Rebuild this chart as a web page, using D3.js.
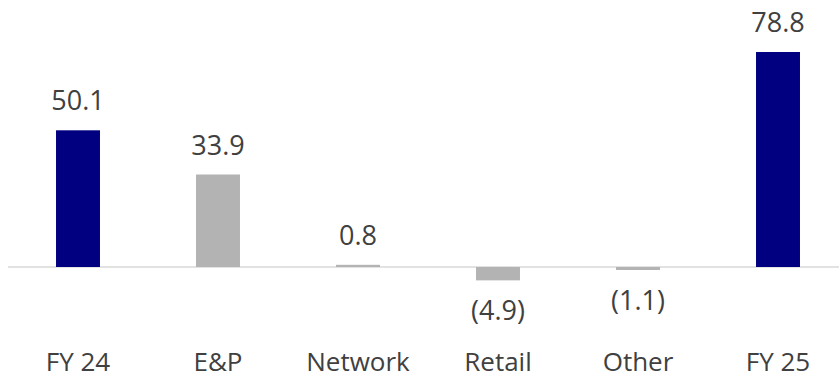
<!DOCTYPE html>
<html>
<head>
<meta charset="utf-8">
<script src="https://cdn.jsdelivr.net/npm/d3@7"></script>
<style>
  html, body { margin: 0; padding: 0; background: #ffffff; }
  svg { display: block; }
</style>
</head>
<body>
<svg id="chart" width="839" height="378"></svg>
<script>
const categories = ["FY 24", "E&P", "Network", "Retail", "Other", "FY 25"];
const values = [50.1, 33.9, 0.8, -4.9, -1.1, 78.8];
const barKinds = ["total", "delta", "delta", "delta", "delta", "total"];

const W = 839, H = 378;
const svg = d3.select("#chart");
const font = "'Open Sans', 'Liberation Sans', sans-serif";

const x = d3.scaleBand().domain(categories).range([8, 848]).paddingInner(0.686).paddingOuter(0.343);
const y = d3.scaleLinear().domain([0, 78.8]).range([267, 52]);

const colorFor = k => k === "total" ? "#000080" : "#b3b3b3";

svg.append("line")
  .attr("x1", 8).attr("x2", W)
  .attr("y1", y(0)).attr("y2", y(0))
  .attr("stroke", "#d9d9d9").attr("stroke-width", 1.5);

const data = categories.map((c, i) => ({ c, v: values[i], k: barKinds[i] }));

svg.append("g").selectAll("rect").data(data).join("rect")
  .attr("x", d => x(d.c))
  .attr("width", x.bandwidth())
  .attr("y", d => Math.min(y(0), y(d.v)))
  .attr("height", d => Math.abs(y(d.v) - y(0)))
  .attr("fill", d => colorFor(d.k));

const fmt = v => v < 0 ? "(" + d3.format(".1f")(-v) + ")" : d3.format(".1f")(v);

svg.append("g").selectAll("text").data(data).join("text")
  .attr("x", d => x(d.c) + x.bandwidth() / 2)
  .attr("y", d => d.v >= 0 ? y(d.v) - 20 : y(d.v) + 40)
  .attr("text-anchor", "middle")
  .attr("font-family", font)
  .attr("font-size", 27)
  .attr("fill", "#404040")
  .text(d => fmt(d.v));

const axis = d3.axisBottom(x).tickSize(0).tickPadding(0);
const gAxis = svg.append("g").attr("transform", `translate(0,${y(0)})`).call(axis);
gAxis.select(".domain").remove();
gAxis.selectAll("text")
  .attr("y", 104)
  .attr("dy", 0)
  .attr("font-family", font)
  .attr("font-size", 26)
  .attr("fill", "#404040");
</script>
</body>
</html>
